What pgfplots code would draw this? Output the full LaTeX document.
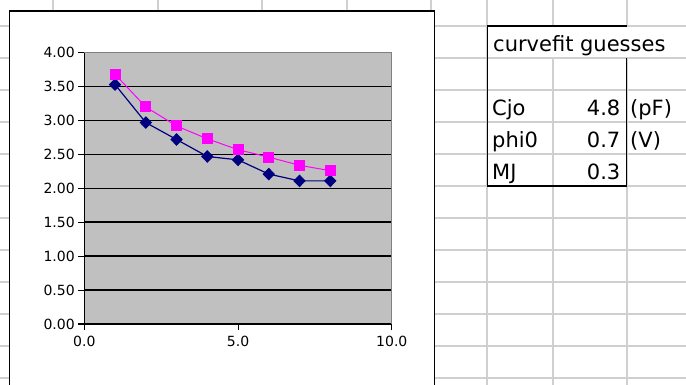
\documentclass[border=0pt]{standalone}
\usepackage{fontspec}
\setmainfont{DejaVu Sans}
\usepackage{pgfplots}
\pgfplotsset{compat=1.18}
\definecolor{xlgray}{HTML}{C0C0C0}
\definecolor{gridgray}{HTML}{D0D0D0}
\definecolor{xlnavy}{HTML}{000080}
\definecolor{xlmag}{HTML}{FF00FF}
\begin{document}
\begin{tikzpicture}
\useasboundingbox (0pt,0pt) rectangle (686pt,-385pt);
\clip (0pt,0pt) rectangle (686pt,-385pt);
\fill[white] (0pt,0pt) rectangle (686pt,-385pt);
\begin{scope}[x=1pt,y=-1pt]
  \foreach \r in {26,58,90,122,154,186,218,250,282,314,346,378}
    \draw[gridgray,line width=1.2pt] (0,\r) -- (686,\r);
  \foreach \c in {53,158,262,347,431,487,553,627}
    \draw[gridgray,line width=1.2pt] (\c,0) -- (\c,385);
  \fill[white] (488,26.7) rectangle (686,57.3);
  \filldraw[fill=white,draw=black,line width=1.4pt] (9.3,11) rectangle (434.5,400);
\end{scope}
\begin{axis}[
  at={(84.3pt,-324pt)}, anchor=south west,
  scale only axis, width=307.5pt, height=271.3pt,
  xmin=0, xmax=10, ymin=0, ymax=4,
  xtick={0,5,10}, ytick={0,0.5,1,1.5,2,2.5,3,3.5,4},
  extra y ticks={0.5,1,1.5,2,2.5,3,3.5}, extra y tick labels={},
  extra y tick style={grid=major},
  grid style={black, line width=1.6pt},
  axis background/.style={fill=xlgray},
  axis lines=left, axis line style={-, black, line width=1.5pt},
  tick style={black, line width=1.1pt},
  major tick length=6pt, tick align=outside,
  /pgf/number format/assume math mode=true,
  ticklabel style={font=\fontsize{14}{16}\selectfont},
  yticklabel style={/pgf/number format/fixed, /pgf/number format/fixed zerofill, /pgf/number format/precision=2},
  xticklabel style={yshift=-3pt, /pgf/number format/fixed, /pgf/number format/fixed zerofill, /pgf/number format/precision=1},
  clip=false,
]
\draw[gray, line width=0.9pt] (rel axis cs:0,1) -- (rel axis cs:1,1) -- (rel axis cs:1,0);
\addplot[xlnavy, line width=1.2pt, mark=diamond*, mark size=5.5pt, mark options={solid, fill=xlnavy, xscale=1.3}] coordinates {
(1,3.53) (2,2.97) (3,2.72) (4,2.47) (5,2.42) (6,2.21) (7,2.11) (8,2.11)};
\addplot[xlmag, line width=1pt, mark=square*, mark size=5pt, mark options={solid, fill=xlmag}] coordinates {
(1,3.68) (2,3.20) (3,2.92) (4,2.73) (5,2.57) (6,2.46) (7,2.34) (8,2.26)};
\end{axis}
\begin{scope}[x=1pt,y=-1pt]
  \draw[black,line width=1.4pt] (627,26) -- (487.5,26) -- (487.5,186) -- (626.5,186) -- (626.5,58);
  \tikzset{tt/.style={inner sep=0pt, font=\fontsize{21}{24}\selectfont}}
  \node[tt, anchor=base west] at (493,51.5) {curvefit guesses};
  \node[tt, anchor=base west] at (492,115.5) {Cjo};
  \node[tt, anchor=base west] at (492,147.5) {phi0};
  \node[tt, anchor=base west] at (492,179.5) {MJ};
  \node[tt, anchor=base east] at (620.5,115.5) {4.8};
  \node[tt, anchor=base east] at (620.5,147.5) {0.7};
  \node[tt, anchor=base east] at (620.5,179.5) {0.3};
  \node[tt, anchor=base west] at (630,115.5) {(pF)};
  \node[tt, anchor=base west] at (630,147.5) {(V)};
\end{scope}
\end{tikzpicture}
\end{document}
